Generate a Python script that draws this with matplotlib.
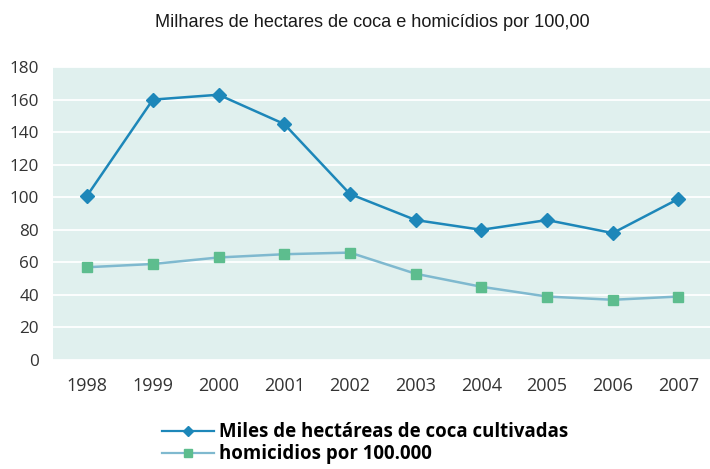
import matplotlib
matplotlib.use("Agg")
import matplotlib.pyplot as plt
from matplotlib.lines import Line2D

years = ["1998", "1999", "2000", "2001", "2002", "2003", "2004", "2005", "2006", "2007"]
coca_hectares = [101, 160, 163, 145, 102, 86, 80, 86, 78, 99]
homicides = [57, 59, 63, 65, 66, 53, 45, 39, 37, 39]
y_ticks = [0, 20, 40, 60, 80, 100, 120, 140, 160, 180]

title = "Milhares de hectares de coca e homicídios por 100,00"
label_coca = "Miles de hectáreas de coca cultivadas"
label_hom = "homicidios por 100.000"

blue = "#1d87b9"
green_mk = "#5dbd8e"
green_ln = "#7fb9cf"
panel = "#e0f0ee"

fig = plt.figure(figsize=(7.10, 4.69), dpi=100)
ax = fig.add_axes([0.0746, 0.2324, 0.9254, 0.6246])
ax.set_facecolor(panel)

x = list(range(len(years)))
ax.plot(x, coca_hectares, color=blue, lw=1.8, marker="D", ms=7, mfc=blue, mec=blue, zorder=3)
ax.plot(x, homicides, color=green_ln, lw=1.8, marker="s", ms=7.5, mfc=green_mk, mec=green_mk, zorder=3)

ax.set_xlim(-0.52, 9.48)
ax.set_ylim(0, 180)
ax.set_yticks(y_ticks)
ax.set_xticks(x)
ax.set_xticklabels(years)
ax.grid(axis="y", color="white", lw=1.3)
ax.set_axisbelow(True)
for s in ax.spines.values():
    s.set_visible(False)
ax.tick_params(axis="both", length=0, labelcolor="#333333")
ax.tick_params(axis="y", pad=10, labelsize=12.3)
ax.tick_params(axis="x", pad=12, labelsize=13)
for lab in ax.get_xticklabels() + ax.get_yticklabels():
    lab.set_fontfamily("Open Sans")

fig.text(0.525, 0.952, title, ha="center", va="center", fontsize=13.1,
         family="Liberation Sans", color="#1a1a1a")

handles = [
    Line2D([], [], color=blue, lw=1.6, marker="D", ms=5.5, mfc=blue, mec=blue),
    Line2D([], [], color=green_ln, lw=1.6, marker="s", ms=6, mfc=green_mk, mec=green_mk),
]
fig.legend(handles, [label_coca, label_hom], loc="center left",
           bbox_to_anchor=(0.204, 0.055), frameon=False, handlelength=2.8,
           handletextpad=0.3, labelspacing=0.12,
           prop={"family": "Open Sans", "weight": "bold", "size": 13.4})

fig.savefig("out.png", dpi=100)
